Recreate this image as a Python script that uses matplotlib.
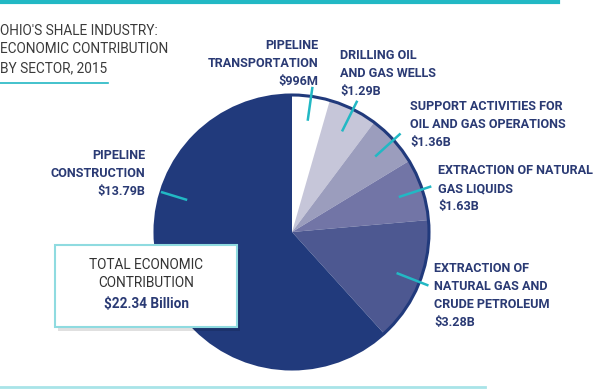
import numpy as np
import matplotlib
matplotlib.use("Agg")
import matplotlib.pyplot as plt
from matplotlib.patches import Circle, Rectangle

# sector values in billions of dollars, clockwise from the top
sectors = ["Pipeline Transportation", "Drilling Oil and Gas Wells",
           "Support Activities", "Extraction of NGL",
           "Extraction of Natural Gas and Crude", "Pipeline Construction"]
values = [0.996, 1.29, 1.36, 1.63, 3.28, 13.79]
labels = ["PIPELINE\nTRANSPORTATION\n$996M",
          "DRILLING OIL\nAND GAS WELLS\n$1.29B",
          "SUPPORT ACTIVITIES FOR\nOIL AND GAS OPERATIONS\n$1.36B",
          "EXTRACTION OF NATURAL\nGAS LIQUIDS\n$1.63B",
          "EXTRACTION OF\nNATURAL GAS AND\nCRUDE PETROLEUM\n$3.28B",
          "PIPELINE\nCONSTRUCTION\n$13.79B"]
total_label = "$22.34 Billion"
title = "OHIO'S SHALE INDUSTRY:\nECONOMIC CONTRIBUTION\nBY SECTOR, 2015"

colors = ["#ffffff", "#c6c6d9", "#9b9dbd", "#7275a6", "#4d5891", "#213a7c"]
navy = "#2a3a74"
teal = "#22b8c4"
FONT = ["Roboto", "DejaVu Sans"]

W, H = 601, 390
fig = plt.figure(figsize=(W / 100, H / 100), dpi=100)
ax = fig.add_axes([0, 0, 1, 1])

cx, cy, R = 292, H - 232, 137
wedges, _ = ax.pie(values, center=(cx, cy), radius=R, startangle=90,
                   counterclock=False, colors=colors,
                   wedgeprops=dict(linewidth=0))
ax.add_patch(Circle((cx, cy), R, fill=False, edgecolor="#213a7c", lw=2.2, zorder=3))

# leader lines: mid-angle of each wedge (clockwise from top), construction moved up
cum = np.cumsum([0] + values[:-1])
mid = (cum + np.array(values) / 2) / sum(values) * 360
mid[-1] = 287
for i, a in enumerate(mid):
    t = np.deg2rad(a)
    r0, r1 = (0.82, 1.07) if i < 5 else (0.80, 1.0)
    ax.plot([cx + r0 * R * np.sin(t), cx + r1 * R * np.sin(t)],
            [cy + r0 * R * np.cos(t), cy + r1 * R * np.cos(t)],
            color=teal, lw=1.8, zorder=4, solid_capstyle="butt")

# label anchor (x, top y, alignment) in pixels
spots = [(318, 39, "right"), (340, 49, "left"), (410, 100, "left"),
         (438, 164, "left"), (434, 262, "left"), (145, 149, "right")]
for lab, (x, y, ha) in zip(labels, spots):
    ax.text(x, H - y, lab, ha=ha, va="top", color=navy, fontsize=9.1,
            fontweight="bold", family=FONT, linespacing=1.5, zorder=5)

ax.text(0, H - 24, title, ha="left", va="top", color="#3a3a3a", fontsize=9.8,
        family=FONT, linespacing=1.4)

# total box with shadow
ax.add_patch(Rectangle((58, H - 331), 182, 82, facecolor="#000000", alpha=0.12,
                       lw=0, zorder=5))
ax.add_patch(Rectangle((55, H - 327), 182, 82, facecolor="white",
                       edgecolor="#8fdbe0", lw=1.5, zorder=6))
ax.text(146, H - 258, "TOTAL ECONOMIC\nCONTRIBUTION", ha="center", va="top",
        color="#333333", fontsize=9.8, family=FONT, linespacing=1.4, zorder=7)
ax.text(146, H - 297, total_label, ha="center", va="top", color=navy,
        fontsize=9.8, fontweight="bold", family=FONT, zorder=7)

# decorative rules
ax.plot([0, 558], [H - 1.5, H - 1.5], color=teal, lw=3)
ax.plot([0, 108], [H - 83, H - 83], color=teal, lw=1.2)
ax.plot([0, 485], [H - 387, H - 387], color="#a8e4e8", lw=2)

ax.set_xlim(0, W)
ax.set_ylim(0, H)
ax.axis("off")
fig.savefig("out.png", dpi=100)
